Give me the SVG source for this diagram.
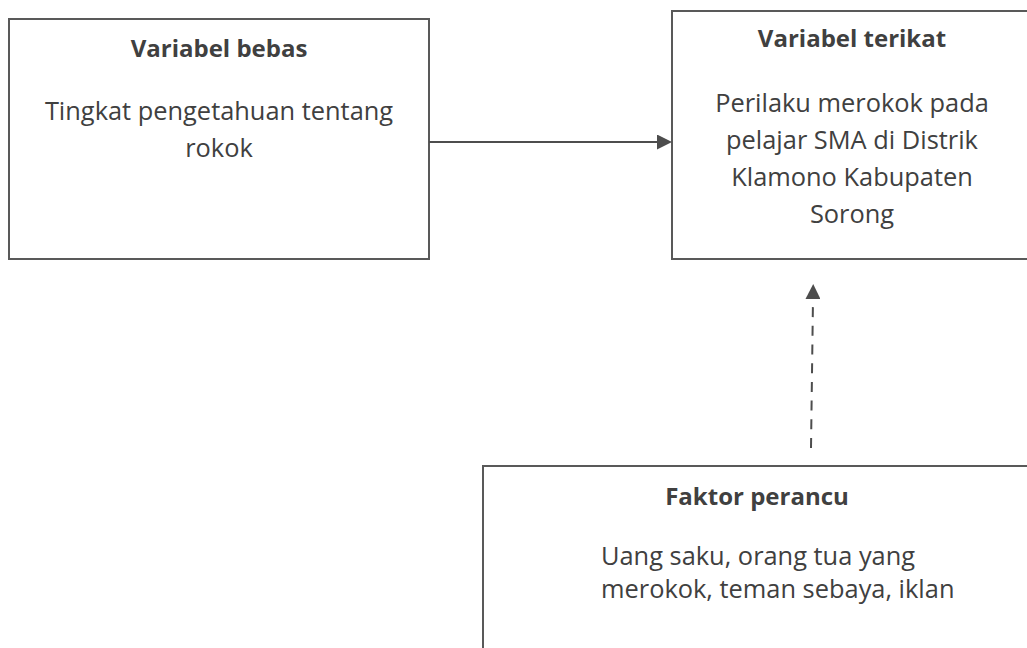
<svg xmlns="http://www.w3.org/2000/svg" width="1027" height="648" viewBox="0 0 1027 648">
  <style>
    .box { fill: #ffffff; stroke: #595959; stroke-width: 2; }
    .title { font-family: "Open Sans", "Liberation Sans", sans-serif; font-weight: bold; font-size: 24px; fill: #404040; text-anchor: middle; }
    .body { font-family: "Open Sans", "Liberation Sans", sans-serif; font-size: 25.4px; fill: #404040; text-anchor: middle; }
    .left { text-anchor: start; }
    .conn { fill: none; stroke: #4d4d4d; stroke-width: 2; }
    .dash { stroke-dasharray: 10 8.7; }
  </style>
  <defs>
    <marker id="arrow" viewBox="0 0 15 15" refX="0" refY="7.5" markerWidth="15" markerHeight="15" markerUnits="userSpaceOnUse" orient="auto">
      <path d="M0,0 L15,7.5 L0,15 Z" fill="#4d4d4d"/>
    </marker>
  </defs>
  <rect x="0" y="0" width="1027" height="648" fill="#ffffff"/>

  <g id="node-variabel-bebas">
    <rect class="box" x="9" y="19" width="420" height="240"/>
    <text class="title" x="219" y="57">Variabel bebas</text>
    <text class="body" x="219" y="120">Tingkat pengetahuan tentang</text>
    <text class="body" x="219" y="157">rokok</text>
  </g>

  <g id="node-variabel-terikat">
    <rect class="box" x="672" y="11" width="360" height="248"/>
    <text class="title" x="852" y="47">Variabel terikat</text>
    <text class="body" x="852" y="112">Perilaku merokok pada</text>
    <text class="body" x="852" y="149">pelajar SMA di Distrik</text>
    <text class="body" x="852" y="186">Klamono Kabupaten</text>
    <text class="body" x="852" y="223">Sorong</text>
  </g>

  <g id="node-faktor-perancu">
    <rect class="box" x="483" y="466" width="560" height="200"/>
    <text class="title" x="757" y="505">Faktor perancu</text>
    <text class="body left" x="601" y="565">Uang saku, orang tua yang</text>
    <text class="body left" x="601" y="598">merokok, teman sebaya, iklan</text>
  </g>

  <g id="connectors">
    <path class="conn" d="M429,142 L657,142" marker-end="url(#arrow)"/>
    <path class="conn dash" d="M811,448 L813,299" marker-end="url(#arrow)"/>
  </g>
</svg>
